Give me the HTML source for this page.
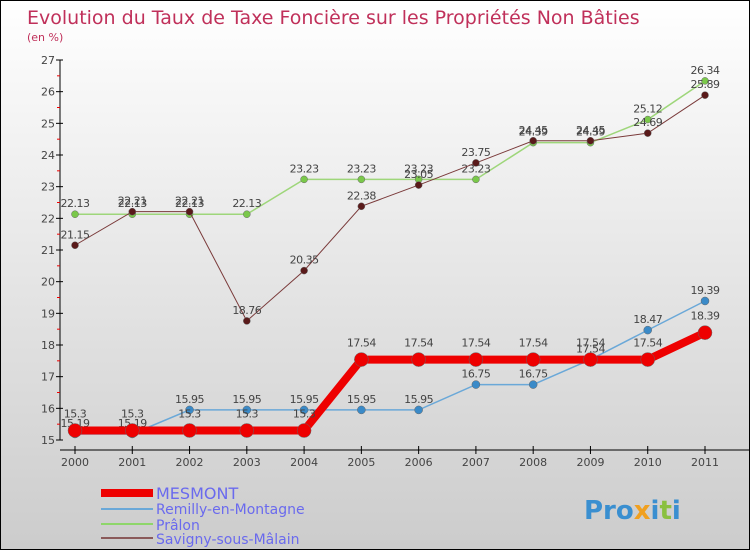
<!DOCTYPE html>
<html><head><meta charset="utf-8"><style>
body{margin:0;}
#c{width:748px;height:548px;border:1px solid #000;background:linear-gradient(#fff,#ccc);position:relative;font-family:"DejaVu Sans","Liberation Sans",sans-serif;overflow:hidden}
svg text{font-family:"DejaVu Sans","Liberation Sans",sans-serif}
</style></head><body>
<div id="c">
<svg id="s" width="748" height="548">
<text x="26" y="23" font-size="19" fill="#c0305a">Evolution du Taux de Taxe Foncière sur les Propriétés Non Bâties</text>
<text x="26" y="40" font-size="11" fill="#c0305a">(en %)</text>
<g id="plot"></g>
<g>
<line x1="100" y1="492" x2="152" y2="492" stroke="#e00" stroke-width="8"/>
<text x="155" y="498" font-size="16" fill="#6a6aee">MESMONT</text>
<line x1="100" y1="508" x2="152" y2="508" stroke="#6aa8d8" stroke-width="2"/>
<text x="155" y="513" font-size="14" fill="#6a6aee">Remilly-en-Montagne</text>
<line x1="100" y1="523" x2="152" y2="523" stroke="#8ed66a" stroke-width="2"/>
<text x="155" y="529" font-size="14" fill="#6a6aee">Prâlon</text>
<line x1="100" y1="537" x2="152" y2="537" stroke="#8a5a5a" stroke-width="2"/>
<text x="155" y="543" font-size="14" fill="#6a6aee">Savigny-sous-Mâlain</text>
</g>
<text x="583" y="518" font-size="26" font-weight="bold" fill="#3a8fd0">Pro<tspan fill="#f0a020">x</tspan>i<tspan fill="#8ac040">t</tspan>i</text>
</svg>
</div>
<script>
const years=[2000,2001,2002,2003,2004,2005,2006,2007,2008,2009,2010,2011];
const yTicks=[15,16,17,18,19,20,21,22,23,24,25,26,27];
const mesmont=[15.3,15.3,15.3,15.3,15.3,17.54,17.54,17.54,17.54,17.54,17.54,18.39];
const remilly=[15.19,15.19,15.95,15.95,15.95,15.95,15.95,16.75,16.75,17.54,18.47,19.39];
const pralon=[22.13,22.13,22.13,22.13,23.23,23.23,23.23,23.23,24.39,24.39,25.12,26.34];
const savigny=[21.15,22.21,22.21,18.76,20.35,22.38,23.05,23.75,24.45,24.45,24.69,25.89];
const NS="http://www.w3.org/2000/svg";
const g=document.getElementById('plot');
const X=i=>74+i*(630/11);
const Y=v=>439-(v-15)*(380/12);
function mk(t,a,p){const e=document.createElementNS(NS,t);for(const k in a)e.setAttribute(k,a[k]);(p||g).appendChild(e);return e;}
// axes
let ax=mk('line',{x1:59,y1:Y(27),x2:59,y2:Y(15),stroke:'#000'});


let xa=mk('line',{x1:59,y1:449,x2:748,y2:449,stroke:'#000'});


yTicks.forEach(v=>{
 mk('line',{x1:55,y1:Y(v),x2:62,y2:Y(v),stroke:'#000'});
 if(v<27)mk('line',{x1:56,y1:Y(v+0.5),x2:59,y2:Y(v+0.5),stroke:'#e00'});
 const t=mk('text',{x:54,y:Y(v)+4,'font-size':11,fill:'#444','text-anchor':'end'});t.textContent=v;
 
 
});
years.forEach((y,i)=>{
 mk('line',{x1:X(i),y1:445,x2:X(i),y2:453,stroke:'#000'});
 const t=mk('text',{x:X(i),y:465,'font-size':11,fill:'#444','text-anchor':'middle'});t.textContent=y;
 
 
});
function series(arr,name,col,w,r,dot,ldy){
 const pts=arr.map((v,i)=>X(i)+','+Y(v)).join(' ');
 const l=mk('polyline',{points:pts,fill:'none',stroke:col,'stroke-width':w});
 
 
 arr.forEach((v,i)=>{
  const c=mk('circle',{cx:X(i),cy:Y(v),r:r,fill:dot,stroke:'#666','stroke-width':0.5});
  
  
  const t=mk('text',{x:X(i),y:Y(v)+ldy,'font-size':11,fill:'#444','text-anchor':'middle','letter-spacing':'-0.5'});
  t.textContent=v;
  
  
 });
}
series(pralon,'pralon','#9ed67a',1.5,3.5,'#7ac84a',-7);
series(savigny,'savigny','#7a3a3a',1,3.5,'#5a1a1a',-7);
series(remilly,'remilly','#6aa8d8',1.5,4,'#3a8ac8',-7);
series(mesmont,'mesmont','#e00',8,7,'#e00',-13);
</script>
</body></html>
